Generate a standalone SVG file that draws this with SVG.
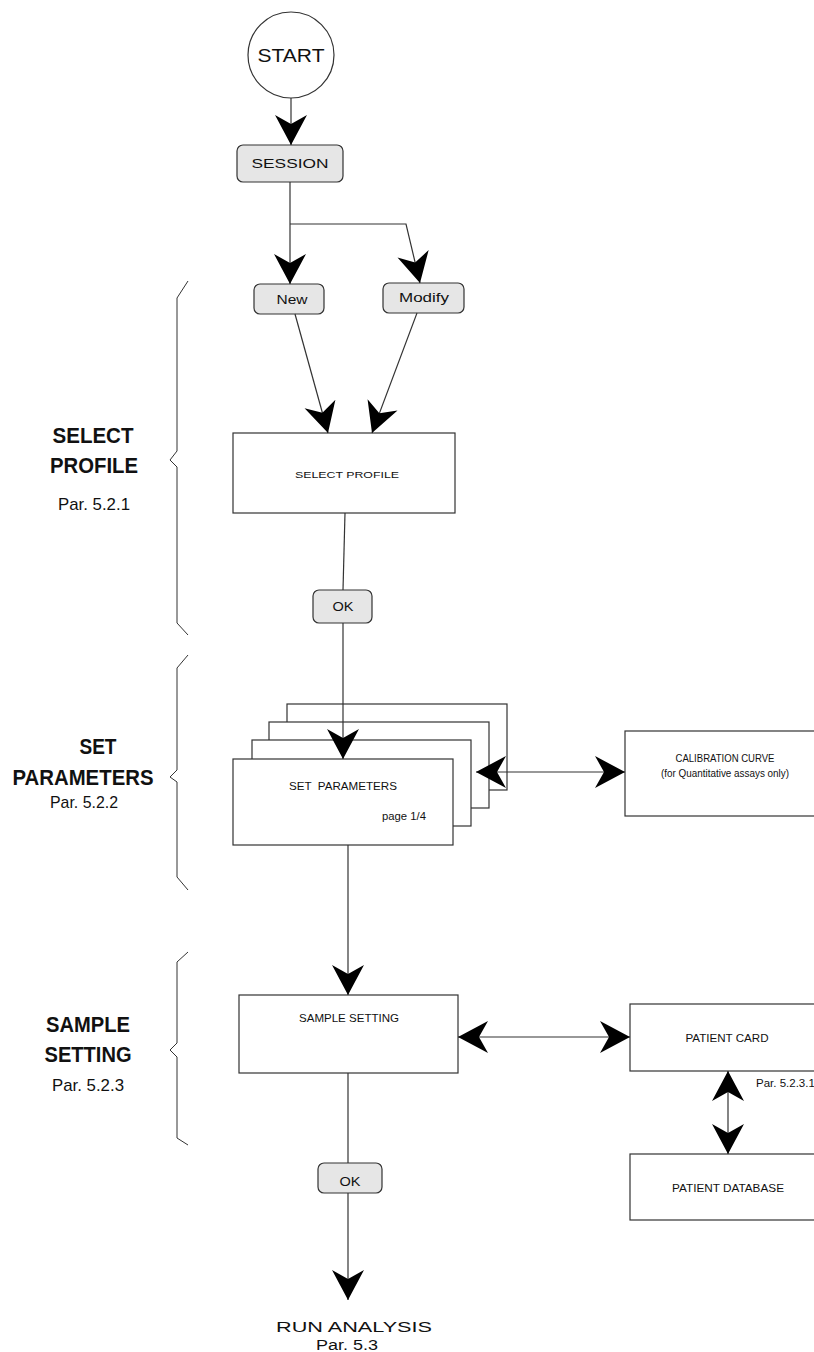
<svg xmlns="http://www.w3.org/2000/svg" width="814" height="1352" viewBox="0 0 814 1352">
<style>
text{font-family:"Liberation Sans",Arial,sans-serif;fill:#111;}
.btn{fill:#e6e6e6;stroke:#333;stroke-width:1.2;}
.box{fill:#fff;stroke:#333;stroke-width:1.2;}
.ln{fill:none;stroke:#333;stroke-width:1.2;}
.brace{fill:none;stroke:#333;stroke-width:1;}
.lbl{font-weight:bold;font-size:22px;text-anchor:middle;}
.par{font-size:17px;text-anchor:middle;}
.bt{font-size:12px;text-anchor:middle;}
.bx{font-size:11.5px;text-anchor:middle;}
</style>
<defs>
<marker id="ah" viewBox="-31 -17 33 34" refX="0" refY="0" markerWidth="33" markerHeight="34" markerUnits="userSpaceOnUse" orient="auto-start-reverse" overflow="visible">
<path d="M0,0 L-30,-16 L-21,0 L-30,16 Z" fill="#000"/>
</marker>
</defs>
<rect width="814" height="1352" fill="#fff"/>

<g id="braces">
<path class="brace" d="M188,281 L177,298 L177,451 L170,460 L177,467 L177,623 L188,635"/>
<path class="brace" d="M188,655 L177,668 L177,770 L170,777 L177,782 L177,877 L188,890"/>
<path class="brace" d="M188,952 L177,962 L177,1043 L170,1050 L177,1057 L177,1138 L188,1145"/>
</g>

<g id="label-select-profile">
<text class="lbl" x="93" y="443" textLength="81" lengthAdjust="spacingAndGlyphs">SELECT</text>
<text class="lbl" x="94" y="473" textLength="88" lengthAdjust="spacingAndGlyphs">PROFILE</text>
<text class="par" x="94" y="510" textLength="72" lengthAdjust="spacingAndGlyphs">Par. 5.2.1</text>
</g>
<g id="label-set-parameters">
<text class="lbl" x="98" y="754" textLength="37" lengthAdjust="spacingAndGlyphs">SET</text>
<text class="lbl" x="83" y="785" textLength="141" lengthAdjust="spacingAndGlyphs">PARAMETERS</text>
<text class="par" x="84" y="808" textLength="68" lengthAdjust="spacingAndGlyphs">Par. 5.2.2</text>
</g>
<g id="label-sample-setting">
<text class="lbl" x="88" y="1032" textLength="84" lengthAdjust="spacingAndGlyphs">SAMPLE</text>
<text class="lbl" x="88" y="1062" textLength="87" lengthAdjust="spacingAndGlyphs">SETTING</text>
<text class="par" x="88" y="1091" textLength="72" lengthAdjust="spacingAndGlyphs">Par. 5.2.3</text>
</g>

<g id="start">
<circle cx="291" cy="55" r="43" fill="#fff" stroke="#333" stroke-width="1.2"/>
<text x="291" y="62" font-size="19" text-anchor="middle" textLength="67" lengthAdjust="spacingAndGlyphs">START</text>
</g>
<g id="session">
<rect class="btn" x="237" y="145" width="106" height="37" rx="6"/>
<text class="bt" x="290" y="168" textLength="77" lengthAdjust="spacingAndGlyphs">SESSION</text>
</g>
<g id="new">
<rect class="btn" x="254" y="284" width="70" height="30" rx="6"/>
<text class="bt" x="292" y="304" textLength="31" lengthAdjust="spacingAndGlyphs">New</text>
</g>
<g id="modify">
<rect class="btn" x="383" y="283" width="81" height="30" rx="6"/>
<text class="bt" x="424" y="302" textLength="50" lengthAdjust="spacingAndGlyphs">Modify</text>
</g>
<g id="select-profile">
<rect class="box" x="233" y="433" width="222" height="80"/>
<text x="347" y="478" font-size="9.5" text-anchor="middle" textLength="104" lengthAdjust="spacingAndGlyphs">SELECT PROFILE</text>
</g>
<g id="ok1">
<rect class="btn" x="313" y="590" width="59" height="33" rx="6"/>
<text class="bt" x="343" y="611" textLength="21" lengthAdjust="spacingAndGlyphs">OK</text>
</g>
<g id="set-parameters">
<rect class="box" x="287" y="704" width="220" height="86"/>
<rect class="box" x="269" y="722" width="220" height="86"/>
<rect class="box" x="252" y="740" width="219" height="86"/>
<rect class="box" x="233" y="759" width="220" height="86"/>
<text class="bx" x="343" y="790" textLength="108" lengthAdjust="spacingAndGlyphs" xml:space="preserve">SET  PARAMETERS</text>
<text x="382" y="820" font-size="11.5" textLength="44" lengthAdjust="spacingAndGlyphs">page 1/4</text>
</g>
<g id="calibration-curve">
<rect class="box" x="625" y="731" width="200" height="85"/>
<text x="725" y="762" font-size="10.5" text-anchor="middle" textLength="99" lengthAdjust="spacingAndGlyphs">CALIBRATION CURVE</text>
<text x="725" y="777" font-size="10.5" text-anchor="middle" textLength="128" lengthAdjust="spacingAndGlyphs">(for Quantitative assays only)</text>
</g>
<g id="sample-setting">
<rect class="box" x="239" y="995" width="219" height="78"/>
<text class="bx" x="349" y="1022" textLength="100" lengthAdjust="spacingAndGlyphs">SAMPLE SETTING</text>
</g>
<g id="patient-card">
<rect class="box" x="630" y="1004" width="200" height="67"/>
<text class="bx" x="727" y="1042" textLength="83" lengthAdjust="spacingAndGlyphs">PATIENT CARD</text>
<text x="756" y="1087" font-size="11.5">Par. 5.2.3.1</text>
</g>
<g id="patient-database">
<rect class="box" x="630" y="1154" width="200" height="66"/>
<text class="bx" x="728" y="1192" textLength="112" lengthAdjust="spacingAndGlyphs">PATIENT DATABASE</text>
</g>
<g id="ok2">
<rect class="btn" x="318" y="1163" width="64" height="30" rx="6"/>
<text class="bt" x="350" y="1186" textLength="21" lengthAdjust="spacingAndGlyphs">OK</text>
</g>
<g id="run-analysis">
<text x="354" y="1332" font-size="15" text-anchor="middle" textLength="156" lengthAdjust="spacingAndGlyphs">RUN ANALYSIS</text>
<text x="347" y="1350" font-size="14" text-anchor="middle" textLength="62" lengthAdjust="spacingAndGlyphs">Par. 5.3</text>
</g>

<g id="connectors">
<path class="ln" d="M291,98 L291,145" marker-end="url(#ah)"/>
<path class="ln" d="M290,182 L290,284" marker-end="url(#ah)"/>
<path class="ln" d="M290,224 L406,224 L420,283" marker-end="url(#ah)"/>
<path class="ln" d="M295,314 L328,433" marker-end="url(#ah)"/>
<path class="ln" d="M417,313 L372,433" marker-end="url(#ah)"/>
<path class="ln" d="M345,513 L343,590"/>
<path class="ln" d="M343,623 L343,759" marker-end="url(#ah)"/>
<path class="ln" d="M476,772 L625,772" marker-start="url(#ah)" marker-end="url(#ah)"/>
<path class="ln" d="M348,845 L348,995" marker-end="url(#ah)"/>
<path class="ln" d="M458,1037 L630,1037" marker-start="url(#ah)" marker-end="url(#ah)"/>
<path class="ln" d="M728,1071 L728,1154" marker-start="url(#ah)" marker-end="url(#ah)"/>
<path class="ln" d="M348,1073 L348,1163"/>
<path class="ln" d="M348,1193 L348,1300" marker-end="url(#ah)"/>
</g>
</svg>
